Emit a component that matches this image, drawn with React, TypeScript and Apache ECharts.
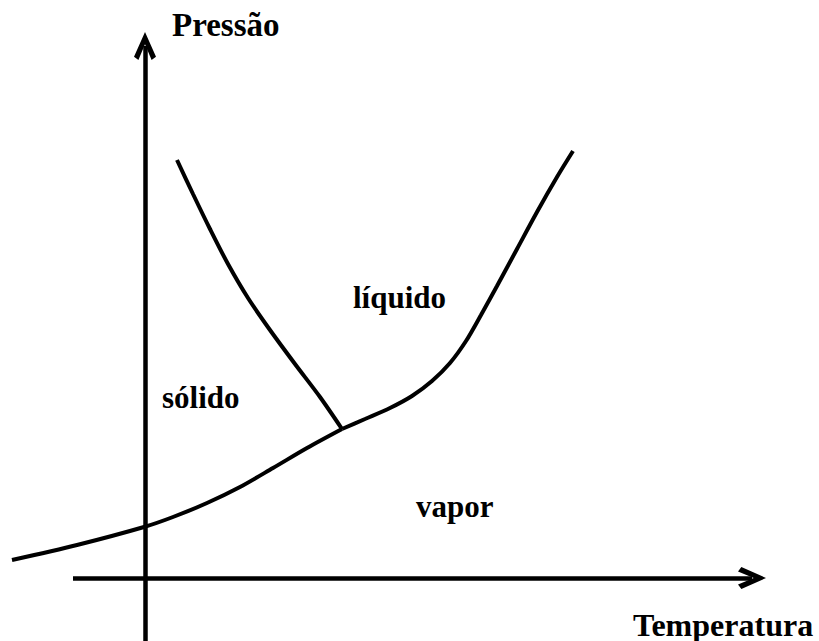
import React, { useEffect, useRef } from "react";
import * as echarts from "echarts";

// Phase diagram: temperature (x) vs pressure (y), arbitrary units, origin at the axes crossing
const fusionCurve: [number, number][] = [
  [3.2, 41.8],
  [4.8, 38.4],
  [6.5, 34.9],
  [8.3, 31.4],
  [10.3, 28.0],
  [12.5, 24.8],
  [15.0, 21.4],
  [17.5, 18.1],
  [19.7, 14.9],
];
const vaporCurve: [number, number][] = [
  [19.7, 14.9],
  [22.0, 15.9],
  [24.5, 17.0],
  [26.7, 18.2],
  [28.7, 19.7],
  [30.5, 21.5],
  [32.1, 23.7],
  [33.6, 26.3],
  [35.2, 29.2],
  [37.2, 32.9],
  [39.2, 36.6],
  [41.2, 40.1],
  [42.8, 42.7],
];
const sublimationCurve: [number, number][] = [
  [-13.3, 1.8],
  [-6.8, 3.3],
  [-0.1, 5.1],
  [2.8, 6.1],
  [6.2, 7.5],
  [9.5, 9.1],
  [12.8, 11.0],
  [16.2, 13.0],
  [19.7, 14.9],
];
// axis lines: [start, end] in data units
const tempAxis: [number, number][] = [
  [-7.2, 0],
  [60.7, 0],
];
const pressureAxis: [number, number][] = [
  [0, -6.3],
  [0, 53.2],
];
const axisNames = { y: "Pressão", x: "Temperatura" };
const regionLabels = ["líquido", "sólido", "vapor"];

const ARROW = "path://M10,0 L20,22 L16,25 L10,11 L4,25 L0,22 Z";
const FONT = "'Liberation Serif', 'Times New Roman', serif";

export default function App() {
  const ref = useRef<HTMLDivElement>(null);
  useEffect(() => {
    if (!ref.current) return;
    const chart = echarts.init(ref.current, null, { renderer: "svg" });
    const axisCommon = {
      type: "value" as const,
      axisLine: { show: false },
      axisTick: { show: false },
      axisLabel: { show: false },
      splitLine: { show: false },
    };
    const curve = (data: [number, number][]) => ({
      type: "line" as const,
      data,
      smooth: 0.3,
      symbol: "none",
      clip: false,
      silent: true,
      lineStyle: { color: "#000", width: 4 },
    });
    const txt = (text: string, x: number, y: number, size: number) => ({
      type: "text" as const,
      x,
      y,
      style: {
        text,
        fill: "#000",
        font: `bold ${size}px ${FONT}`,
        textAlign: "left",
        textVerticalAlign: "middle",
      },
    });
    const axisSegment = (pts: [number, number][]) => [
      { coord: pts[0] },
      { coord: pts[1] },
    ];
    chart.setOption({
      animation: false,
      backgroundColor: "#fff",
      grid: { left: 0, right: 0, top: 0, bottom: 0, containLabel: false },
      xAxis: { ...axisCommon, min: -14.5, max: 67.4 },
      yAxis: { ...axisCommon, min: -6.3, max: 57.8 },
      series: [
        curve(fusionCurve),
        curve(vaporCurve),
        {
          ...curve(sublimationCurve),
          markLine: {
            silent: true,
            symbol: ["none", ARROW],
            symbolSize: [22, 28],
            label: { show: false },
            emphasis: { disabled: true },
            lineStyle: { color: "#000", width: 4.5, type: "solid" },
            data: [axisSegment(tempAxis), axisSegment(pressureAxis)],
          },
        },
      ],
      graphic: [
        txt(axisNames.y, 172, 24.5, 33),
        txt(axisNames.x, 633, 624.5, 32),
        txt(regionLabels[0], 353, 297.5, 31),
        txt(regionLabels[1], 162, 397.5, 31),
        txt(regionLabels[2], 416, 506.5, 31),
      ],
    });
    return () => chart.dispose();
  }, []);
  return (
    <div
      ref={ref}
      style={{ position: "absolute", left: 0, top: 0, width: 819, height: 641 }}
    />
  );
}
